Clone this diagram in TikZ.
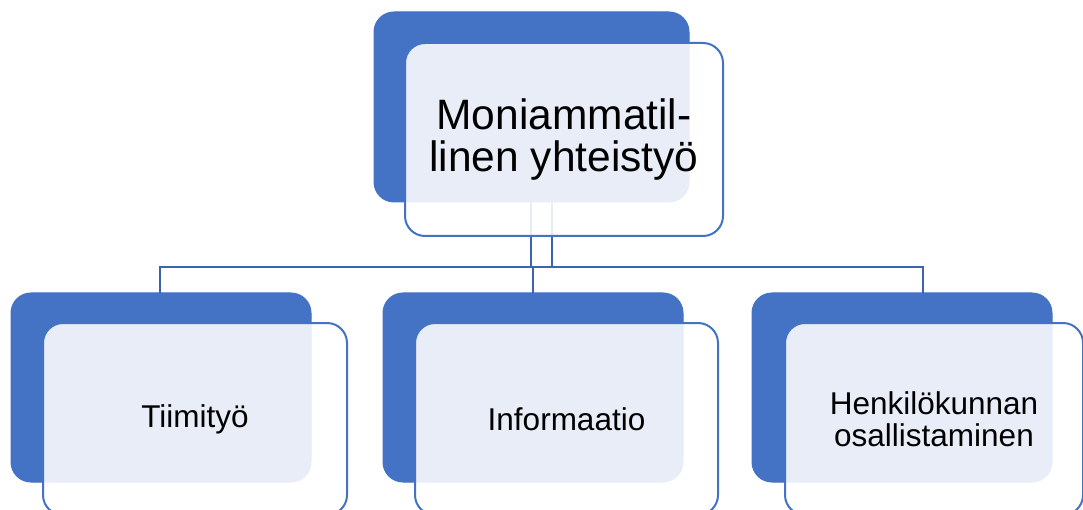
\documentclass[tikz,border=0pt]{standalone}
\usepackage{fontspec}
\setmainfont{Liberation Sans}
\definecolor{accent}{HTML}{4472C4}
\definecolor{conn}{HTML}{3C64AE}
\begin{document}
\begin{tikzpicture}[x=1pt,y=-1pt,
  darkbox/.style={rectangle, rounded corners=20pt, fill=accent, draw=accent, line width=1pt, inner sep=0pt, outer sep=0pt},
  lightbox/.style={rectangle, rounded corners=20pt, fill=white, fill opacity=0.88, text opacity=1, draw=accent, line width=2pt, inner sep=0pt, outer sep=0pt, align=center, text=black},
  bigtxt/.style={font=\fontsize{42.5}{42}\selectfont},
  smalltxt/.style={font=\fontsize{31.5}{31.5}\selectfont},
  connector/.style={draw=conn, line width=2pt}]
\useasboundingbox (0,0) rectangle (1083,510);
\clip (0,0) rectangle (1083,510);
\fill[white] (0,0) rectangle (1083,510);
% dark boxes
\node[darkbox, minimum width=315pt, minimum height=190pt] (tdark) at (531.5,107) {};
\node[darkbox, minimum width=300pt, minimum height=189pt] (d1) at (161,387.5) {};
\node[darkbox, minimum width=300pt, minimum height=189pt] (d2) at (533,387.5) {};
\node[darkbox, minimum width=300pt, minimum height=189pt] (d3) at (902,387.5) {};
% connectors
\coordinate (jL) at (160,267);
\coordinate (jR) at (923,267);
\coordinate (jA) at (531,267);
\coordinate (jB) at (552,267);
\draw[connector] (tdark.south -| jA) -- (jA);
\draw[connector] (tdark.south -| jB) -- (jB);
\draw[connector, line cap=rect] (jL) -- (jR);
\draw[connector] (jL) -- (d1.north -| jL);
\draw[connector] (533,267) -- (d2.north -| 533,0);
\draw[connector] (jR) -- (d3.north -| jR);
% light boxes
\node[lightbox, bigtxt, minimum width=318pt, minimum height=193pt] (top) at (564,139.5) {Moniammatil-\\linen yhteistyö};
\node[lightbox, smalltxt, minimum width=304pt, minimum height=192pt] (b1) at (195,419) {Tiimityö};
\node[lightbox, smalltxt, minimum width=303pt, minimum height=192pt] (b2) at (566.5,419) {Informaatio};
\node[lightbox, smalltxt, minimum width=298pt, minimum height=192pt] (b3) at (934,419) {Henkilökunnan\\osallistaminen};
\end{tikzpicture}
\end{document}
